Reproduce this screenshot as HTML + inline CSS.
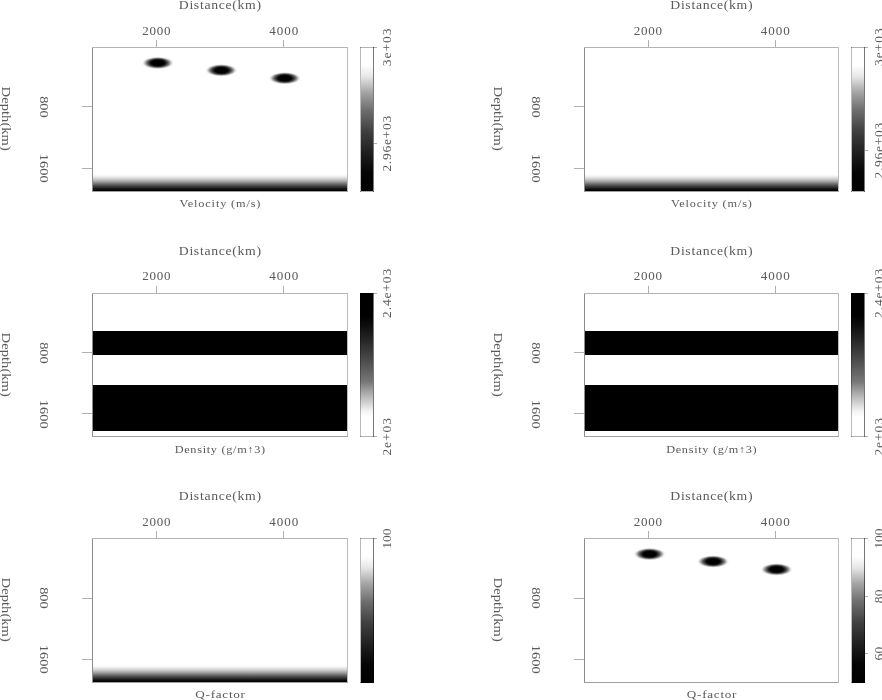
<!DOCTYPE html>
<html><head><meta charset="utf-8"><title>Plots</title>
<style>html,body{margin:0;padding:0;background:#fff;overflow:hidden}svg{display:block}</style>
</head><body><svg width="882" height="700" viewBox="0 0 882 700"><defs><linearGradient id="botg" x1="0" y1="0" x2="0" y2="1"><stop offset="0" stop-color="rgb(255,255,255)"/><stop offset="0.12" stop-color="rgb(245,245,245)"/><stop offset="0.3" stop-color="rgb(205,205,205)"/><stop offset="0.45" stop-color="rgb(160,160,160)"/><stop offset="0.6" stop-color="rgb(105,105,105)"/><stop offset="0.75" stop-color="rgb(55,55,55)"/><stop offset="0.88" stop-color="rgb(20,20,20)"/><stop offset="0.96" stop-color="rgb(0,0,0)"/><stop offset="1" stop-color="rgb(0,0,0)"/></linearGradient><linearGradient id="cbv" x1="0" y1="0" x2="0" y2="1"><stop offset="0" stop-color="rgb(255,255,255)"/><stop offset="0.12" stop-color="rgb(255,255,255)"/><stop offset="0.2" stop-color="rgb(230,230,230)"/><stop offset="0.31" stop-color="rgb(165,165,165)"/><stop offset="0.43" stop-color="rgb(112,112,112)"/><stop offset="0.58" stop-color="rgb(64,64,64)"/><stop offset="0.73" stop-color="rgb(32,32,32)"/><stop offset="0.87" stop-color="rgb(5,5,5)"/><stop offset="1" stop-color="rgb(0,0,0)"/></linearGradient><linearGradient id="cbd" x1="0" y1="0" x2="0" y2="1"><stop offset="0" stop-color="rgb(0,0,0)"/><stop offset="0.16" stop-color="rgb(0,0,0)"/><stop offset="0.24" stop-color="rgb(17,17,17)"/><stop offset="0.315" stop-color="rgb(34,34,34)"/><stop offset="0.378" stop-color="rgb(51,51,51)"/><stop offset="0.444" stop-color="rgb(68,68,68)"/><stop offset="0.47" stop-color="rgb(75,75,75)"/><stop offset="0.62" stop-color="rgb(119,119,119)"/><stop offset="0.7" stop-color="rgb(170,170,170)"/><stop offset="0.788" stop-color="rgb(221,221,221)"/><stop offset="0.83" stop-color="rgb(245,245,245)"/><stop offset="0.867" stop-color="rgb(255,255,255)"/><stop offset="1" stop-color="rgb(255,255,255)"/></linearGradient></defs><rect width="882" height="700" fill="#fff"/><g shape-rendering="crispEdges"><rect x="93" y="174" width="254" height="17" fill="url(#botg)"/><rect x="92" y="47" width="1" height="145" fill="#8c8c8c"/><rect x="92" y="47" width="256" height="1" fill="#b4b4b4"/><rect x="347" y="47" width="1" height="145" fill="#bcbcbc"/><rect x="92" y="191" width="256" height="1" fill="#a0a0a0"/><rect x="361" y="48" width="12" height="143" fill="url(#cbv)"/><rect x="360" y="47" width="1" height="145" fill="rgba(0,0,0,0.27)"/><rect x="360" y="47" width="14" height="1" fill="rgba(0,0,0,0.3)"/><rect x="373" y="47" width="1" height="145" fill="rgba(0,0,0,0.53)"/><rect x="360" y="191" width="14" height="1" fill="rgba(0,0,0,0.3)"/><rect x="156" y="40" width="1" height="7" fill="#b0b0b0"/><rect x="283" y="40" width="1" height="7" fill="#b0b0b0"/><rect x="82" y="106" width="10" height="1" fill="#b0b0b0"/><rect x="82" y="168" width="10" height="1" fill="#b0b0b0"/><rect x="374" y="47" width="3" height="1" fill="#b0b0b0"/><rect x="374" y="143" width="3" height="1" fill="#b0b0b0"/><rect x="585" y="174" width="253" height="17" fill="url(#botg)"/><rect x="584" y="47" width="1" height="145" fill="#8c8c8c"/><rect x="584" y="47" width="255" height="1" fill="#b4b4b4"/><rect x="838" y="47" width="1" height="145" fill="#bcbcbc"/><rect x="584" y="191" width="255" height="1" fill="#a0a0a0"/><rect x="852" y="48" width="12" height="143" fill="url(#cbv)"/><rect x="851" y="47" width="1" height="145" fill="rgba(0,0,0,0.27)"/><rect x="851" y="47" width="14" height="1" fill="rgba(0,0,0,0.3)"/><rect x="864" y="47" width="1" height="145" fill="rgba(0,0,0,0.53)"/><rect x="851" y="191" width="14" height="1" fill="rgba(0,0,0,0.3)"/><rect x="648" y="40" width="1" height="7" fill="#b0b0b0"/><rect x="775" y="40" width="1" height="7" fill="#b0b0b0"/><rect x="574" y="106" width="10" height="1" fill="#b0b0b0"/><rect x="574" y="168" width="10" height="1" fill="#b0b0b0"/><rect x="865" y="47" width="3" height="1" fill="#b0b0b0"/><rect x="865" y="150" width="3" height="1" fill="#b0b0b0"/><rect x="93" y="331" width="254" height="24" fill="#000"/><rect x="93" y="385" width="254" height="46" fill="#000"/><rect x="92" y="293" width="1" height="144" fill="#8c8c8c"/><rect x="92" y="293" width="256" height="1" fill="#b4b4b4"/><rect x="347" y="293" width="1" height="144" fill="#bcbcbc"/><rect x="92" y="436" width="256" height="1" fill="#a0a0a0"/><rect x="360" y="293" width="13" height="143" fill="url(#cbd)"/><rect x="360" y="293" width="1" height="144" fill="rgba(0,0,0,0.27)"/><rect x="360" y="293" width="14" height="1" fill="rgba(0,0,0,0.3)"/><rect x="373" y="293" width="1" height="144" fill="rgba(0,0,0,0.53)"/><rect x="360" y="436" width="14" height="1" fill="rgba(0,0,0,0.3)"/><rect x="156" y="286" width="1" height="7" fill="#b0b0b0"/><rect x="283" y="286" width="1" height="7" fill="#b0b0b0"/><rect x="82" y="352" width="10" height="1" fill="#b0b0b0"/><rect x="82" y="413" width="10" height="1" fill="#b0b0b0"/><rect x="374" y="293" width="3" height="1" fill="#b0b0b0"/><rect x="374" y="436" width="3" height="1" fill="#b0b0b0"/><rect x="585" y="331" width="253" height="24" fill="#000"/><rect x="585" y="385" width="253" height="46" fill="#000"/><rect x="584" y="293" width="1" height="144" fill="#8c8c8c"/><rect x="584" y="293" width="255" height="1" fill="#b4b4b4"/><rect x="838" y="293" width="1" height="144" fill="#bcbcbc"/><rect x="584" y="436" width="255" height="1" fill="#a0a0a0"/><rect x="851" y="293" width="13" height="143" fill="url(#cbd)"/><rect x="851" y="293" width="1" height="144" fill="rgba(0,0,0,0.27)"/><rect x="851" y="293" width="14" height="1" fill="rgba(0,0,0,0.3)"/><rect x="864" y="293" width="1" height="144" fill="rgba(0,0,0,0.53)"/><rect x="851" y="436" width="14" height="1" fill="rgba(0,0,0,0.3)"/><rect x="648" y="286" width="1" height="7" fill="#b0b0b0"/><rect x="775" y="286" width="1" height="7" fill="#b0b0b0"/><rect x="574" y="352" width="10" height="1" fill="#b0b0b0"/><rect x="574" y="413" width="10" height="1" fill="#b0b0b0"/><rect x="865" y="293" width="3" height="1" fill="#b0b0b0"/><rect x="865" y="436" width="3" height="1" fill="#b0b0b0"/><rect x="93" y="665" width="254" height="17" fill="url(#botg)"/><rect x="92" y="538" width="1" height="145" fill="#8c8c8c"/><rect x="92" y="538" width="256" height="1" fill="#b4b4b4"/><rect x="347" y="538" width="1" height="145" fill="#bcbcbc"/><rect x="92" y="682" width="256" height="1" fill="#a0a0a0"/><rect x="361" y="539" width="13" height="144" fill="url(#cbv)"/><rect x="360" y="538" width="1" height="145" fill="rgba(0,0,0,0.27)"/><rect x="360" y="538" width="14" height="1" fill="rgba(0,0,0,0.3)"/><rect x="373" y="538" width="1" height="145" fill="rgba(0,0,0,0.53)"/><rect x="360" y="682" width="14" height="1" fill="rgba(0,0,0,0.3)"/><rect x="156" y="531" width="1" height="7" fill="#b0b0b0"/><rect x="283" y="531" width="1" height="7" fill="#b0b0b0"/><rect x="82" y="598" width="10" height="1" fill="#b0b0b0"/><rect x="82" y="659" width="10" height="1" fill="#b0b0b0"/><rect x="374" y="538" width="3" height="1" fill="#b0b0b0"/><rect x="584" y="538" width="1" height="145" fill="#8c8c8c"/><rect x="584" y="538" width="255" height="1" fill="#b4b4b4"/><rect x="838" y="538" width="1" height="145" fill="#bcbcbc"/><rect x="584" y="682" width="255" height="1" fill="#a0a0a0"/><rect x="852" y="539" width="13" height="144" fill="url(#cbv)"/><rect x="851" y="538" width="1" height="145" fill="rgba(0,0,0,0.27)"/><rect x="851" y="538" width="14" height="1" fill="rgba(0,0,0,0.3)"/><rect x="864" y="538" width="1" height="145" fill="rgba(0,0,0,0.53)"/><rect x="851" y="682" width="14" height="1" fill="rgba(0,0,0,0.3)"/><rect x="648" y="531" width="1" height="7" fill="#b0b0b0"/><rect x="775" y="531" width="1" height="7" fill="#b0b0b0"/><rect x="574" y="598" width="10" height="1" fill="#b0b0b0"/><rect x="574" y="659" width="10" height="1" fill="#b0b0b0"/><rect x="865" y="538" width="3" height="1" fill="#b0b0b0"/><rect x="865" y="596" width="3" height="1" fill="#b0b0b0"/><rect x="865" y="653" width="3" height="1" fill="#b0b0b0"/></g><ellipse cx="157.80" cy="62.90" rx="15.40" ry="6.05" fill-opacity="0.059"/><ellipse cx="157.80" cy="62.90" rx="14.31" ry="5.74" fill-opacity="0.067"/><ellipse cx="157.80" cy="62.90" rx="13.78" ry="5.50" fill-opacity="0.080"/><ellipse cx="157.80" cy="62.90" rx="13.22" ry="5.32" fill-opacity="0.087"/><ellipse cx="157.80" cy="62.90" rx="12.71" ry="5.13" fill-opacity="0.106"/><ellipse cx="157.80" cy="62.90" rx="12.23" ry="4.94" fill-opacity="0.119"/><ellipse cx="157.80" cy="62.90" rx="11.74" ry="4.75" fill-opacity="0.135"/><ellipse cx="157.80" cy="62.90" rx="11.19" ry="4.57" fill-opacity="0.156"/><ellipse cx="157.80" cy="62.90" rx="10.59" ry="4.39" fill-opacity="0.167"/><ellipse cx="157.80" cy="62.90" rx="10.03" ry="4.17" fill-opacity="0.200"/><ellipse cx="157.80" cy="62.90" rx="9.30" ry="3.96" fill-opacity="0.222"/><ellipse cx="157.80" cy="62.90" rx="8.61" ry="3.77" fill-opacity="0.286"/><ellipse cx="157.80" cy="62.90" rx="7.95" ry="3.58" fill-opacity="0.350"/><ellipse cx="157.80" cy="62.90" rx="7.30" ry="3.25" fill-opacity="0.462"/><ellipse cx="157.80" cy="62.90" rx="6.69" ry="2.98" fill-opacity="0.643"/><ellipse cx="157.80" cy="62.90" rx="6.11" ry="2.62" fill-opacity="1.000"/><ellipse cx="221.30" cy="70.30" rx="15.40" ry="6.05" fill-opacity="0.059"/><ellipse cx="221.30" cy="70.30" rx="14.31" ry="5.74" fill-opacity="0.067"/><ellipse cx="221.30" cy="70.30" rx="13.78" ry="5.50" fill-opacity="0.080"/><ellipse cx="221.30" cy="70.30" rx="13.22" ry="5.32" fill-opacity="0.087"/><ellipse cx="221.30" cy="70.30" rx="12.71" ry="5.13" fill-opacity="0.106"/><ellipse cx="221.30" cy="70.30" rx="12.23" ry="4.94" fill-opacity="0.119"/><ellipse cx="221.30" cy="70.30" rx="11.74" ry="4.75" fill-opacity="0.135"/><ellipse cx="221.30" cy="70.30" rx="11.19" ry="4.57" fill-opacity="0.156"/><ellipse cx="221.30" cy="70.30" rx="10.59" ry="4.39" fill-opacity="0.167"/><ellipse cx="221.30" cy="70.30" rx="10.03" ry="4.17" fill-opacity="0.200"/><ellipse cx="221.30" cy="70.30" rx="9.30" ry="3.96" fill-opacity="0.222"/><ellipse cx="221.30" cy="70.30" rx="8.61" ry="3.77" fill-opacity="0.286"/><ellipse cx="221.30" cy="70.30" rx="7.95" ry="3.58" fill-opacity="0.350"/><ellipse cx="221.30" cy="70.30" rx="7.30" ry="3.25" fill-opacity="0.462"/><ellipse cx="221.30" cy="70.30" rx="6.69" ry="2.98" fill-opacity="0.643"/><ellipse cx="221.30" cy="70.30" rx="6.11" ry="2.62" fill-opacity="1.000"/><ellipse cx="284.80" cy="78.20" rx="15.40" ry="6.05" fill-opacity="0.059"/><ellipse cx="284.80" cy="78.20" rx="14.31" ry="5.74" fill-opacity="0.067"/><ellipse cx="284.80" cy="78.20" rx="13.78" ry="5.50" fill-opacity="0.080"/><ellipse cx="284.80" cy="78.20" rx="13.22" ry="5.32" fill-opacity="0.087"/><ellipse cx="284.80" cy="78.20" rx="12.71" ry="5.13" fill-opacity="0.106"/><ellipse cx="284.80" cy="78.20" rx="12.23" ry="4.94" fill-opacity="0.119"/><ellipse cx="284.80" cy="78.20" rx="11.74" ry="4.75" fill-opacity="0.135"/><ellipse cx="284.80" cy="78.20" rx="11.19" ry="4.57" fill-opacity="0.156"/><ellipse cx="284.80" cy="78.20" rx="10.59" ry="4.39" fill-opacity="0.167"/><ellipse cx="284.80" cy="78.20" rx="10.03" ry="4.17" fill-opacity="0.200"/><ellipse cx="284.80" cy="78.20" rx="9.30" ry="3.96" fill-opacity="0.222"/><ellipse cx="284.80" cy="78.20" rx="8.61" ry="3.77" fill-opacity="0.286"/><ellipse cx="284.80" cy="78.20" rx="7.95" ry="3.58" fill-opacity="0.350"/><ellipse cx="284.80" cy="78.20" rx="7.30" ry="3.25" fill-opacity="0.462"/><ellipse cx="284.80" cy="78.20" rx="6.69" ry="2.98" fill-opacity="0.643"/><ellipse cx="284.80" cy="78.20" rx="6.11" ry="2.62" fill-opacity="1.000"/><ellipse cx="649.60" cy="554.10" rx="15.40" ry="6.05" fill-opacity="0.059"/><ellipse cx="649.60" cy="554.10" rx="14.31" ry="5.74" fill-opacity="0.067"/><ellipse cx="649.60" cy="554.10" rx="13.78" ry="5.50" fill-opacity="0.080"/><ellipse cx="649.60" cy="554.10" rx="13.22" ry="5.32" fill-opacity="0.087"/><ellipse cx="649.60" cy="554.10" rx="12.71" ry="5.13" fill-opacity="0.106"/><ellipse cx="649.60" cy="554.10" rx="12.23" ry="4.94" fill-opacity="0.119"/><ellipse cx="649.60" cy="554.10" rx="11.74" ry="4.75" fill-opacity="0.135"/><ellipse cx="649.60" cy="554.10" rx="11.19" ry="4.57" fill-opacity="0.156"/><ellipse cx="649.60" cy="554.10" rx="10.59" ry="4.39" fill-opacity="0.167"/><ellipse cx="649.60" cy="554.10" rx="10.03" ry="4.17" fill-opacity="0.200"/><ellipse cx="649.60" cy="554.10" rx="9.30" ry="3.96" fill-opacity="0.222"/><ellipse cx="649.60" cy="554.10" rx="8.61" ry="3.77" fill-opacity="0.286"/><ellipse cx="649.60" cy="554.10" rx="7.95" ry="3.58" fill-opacity="0.350"/><ellipse cx="649.60" cy="554.10" rx="7.30" ry="3.25" fill-opacity="0.462"/><ellipse cx="649.60" cy="554.10" rx="6.69" ry="2.98" fill-opacity="0.643"/><ellipse cx="649.60" cy="554.10" rx="6.11" ry="2.62" fill-opacity="1.000"/><ellipse cx="713.10" cy="561.50" rx="15.40" ry="6.05" fill-opacity="0.059"/><ellipse cx="713.10" cy="561.50" rx="14.31" ry="5.74" fill-opacity="0.067"/><ellipse cx="713.10" cy="561.50" rx="13.78" ry="5.50" fill-opacity="0.080"/><ellipse cx="713.10" cy="561.50" rx="13.22" ry="5.32" fill-opacity="0.087"/><ellipse cx="713.10" cy="561.50" rx="12.71" ry="5.13" fill-opacity="0.106"/><ellipse cx="713.10" cy="561.50" rx="12.23" ry="4.94" fill-opacity="0.119"/><ellipse cx="713.10" cy="561.50" rx="11.74" ry="4.75" fill-opacity="0.135"/><ellipse cx="713.10" cy="561.50" rx="11.19" ry="4.57" fill-opacity="0.156"/><ellipse cx="713.10" cy="561.50" rx="10.59" ry="4.39" fill-opacity="0.167"/><ellipse cx="713.10" cy="561.50" rx="10.03" ry="4.17" fill-opacity="0.200"/><ellipse cx="713.10" cy="561.50" rx="9.30" ry="3.96" fill-opacity="0.222"/><ellipse cx="713.10" cy="561.50" rx="8.61" ry="3.77" fill-opacity="0.286"/><ellipse cx="713.10" cy="561.50" rx="7.95" ry="3.58" fill-opacity="0.350"/><ellipse cx="713.10" cy="561.50" rx="7.30" ry="3.25" fill-opacity="0.462"/><ellipse cx="713.10" cy="561.50" rx="6.69" ry="2.98" fill-opacity="0.643"/><ellipse cx="713.10" cy="561.50" rx="6.11" ry="2.62" fill-opacity="1.000"/><ellipse cx="776.60" cy="569.40" rx="15.40" ry="6.05" fill-opacity="0.059"/><ellipse cx="776.60" cy="569.40" rx="14.31" ry="5.74" fill-opacity="0.067"/><ellipse cx="776.60" cy="569.40" rx="13.78" ry="5.50" fill-opacity="0.080"/><ellipse cx="776.60" cy="569.40" rx="13.22" ry="5.32" fill-opacity="0.087"/><ellipse cx="776.60" cy="569.40" rx="12.71" ry="5.13" fill-opacity="0.106"/><ellipse cx="776.60" cy="569.40" rx="12.23" ry="4.94" fill-opacity="0.119"/><ellipse cx="776.60" cy="569.40" rx="11.74" ry="4.75" fill-opacity="0.135"/><ellipse cx="776.60" cy="569.40" rx="11.19" ry="4.57" fill-opacity="0.156"/><ellipse cx="776.60" cy="569.40" rx="10.59" ry="4.39" fill-opacity="0.167"/><ellipse cx="776.60" cy="569.40" rx="10.03" ry="4.17" fill-opacity="0.200"/><ellipse cx="776.60" cy="569.40" rx="9.30" ry="3.96" fill-opacity="0.222"/><ellipse cx="776.60" cy="569.40" rx="8.61" ry="3.77" fill-opacity="0.286"/><ellipse cx="776.60" cy="569.40" rx="7.95" ry="3.58" fill-opacity="0.350"/><ellipse cx="776.60" cy="569.40" rx="7.30" ry="3.25" fill-opacity="0.462"/><ellipse cx="776.60" cy="569.40" rx="6.69" ry="2.98" fill-opacity="0.643"/><ellipse cx="776.60" cy="569.40" rx="6.11" ry="2.62" fill-opacity="1.000"/><g font-family="'Liberation Serif', serif" fill="#5a5a5a" opacity="0.999"><text font-size="11.450" letter-spacing="0.569" transform="matrix(1.2 0 0 1 178.7878 8.6)">Distance(km)</text><text font-size="11.880" letter-spacing="0.659" transform="matrix(1.1 0 0 1 142.312 34.7)">2000</text><text font-size="11.880" letter-spacing="0.833" transform="matrix(1.1 0 0 1 269.3386 34.7)">4000</text><text font-size="12.214" letter-spacing="0.006" transform="matrix(0 1.2 -1 0 2.3 86.5603)">Depth(km)</text><text font-size="13.083" letter-spacing="-0.107" transform="matrix(0 1.1 -1 0 40.1 96.2244)">800</text><text font-size="13.083" letter-spacing="0.057" transform="matrix(0 1.1 -1 0 40.1 153.7048)">1600</text><text font-size="10.229" letter-spacing="0.722" transform="matrix(1.2 0 0 1 179.3773 206.7)">Velocity (m/s)</text><text font-size="12.331" letter-spacing="0.858" transform="matrix(0 -1.1 1 0 391.2 66.2782)">3e+03</text><text font-size="12.331" letter-spacing="0.630" transform="matrix(0 -1.1 1 0 391.2 171.6104)">2.96e+03</text><text font-size="11.450" letter-spacing="0.569" transform="matrix(1.2 0 0 1 670.2878 8.6)">Distance(km)</text><text font-size="11.880" letter-spacing="0.659" transform="matrix(1.1 0 0 1 633.812 34.7)">2000</text><text font-size="11.880" letter-spacing="0.833" transform="matrix(1.1 0 0 1 760.8386 34.7)">4000</text><text font-size="12.214" letter-spacing="0.006" transform="matrix(0 1.2 -1 0 493.8 86.5603)">Depth(km)</text><text font-size="13.083" letter-spacing="-0.107" transform="matrix(0 1.1 -1 0 531.6 96.2244)">800</text><text font-size="13.083" letter-spacing="0.057" transform="matrix(0 1.1 -1 0 531.6 153.7048)">1600</text><text font-size="10.229" letter-spacing="0.722" transform="matrix(1.2 0 0 1 670.8773 206.7)">Velocity (m/s)</text><text font-size="12.331" letter-spacing="0.858" transform="matrix(0 -1.1 1 0 882.7 66.0782)">3e+03</text><text font-size="12.331" letter-spacing="0.630" transform="matrix(0 -1.1 1 0 882.7 178.5104)">2.96e+03</text><text font-size="11.450" letter-spacing="0.569" transform="matrix(1.2 0 0 1 178.7878 254.6)">Distance(km)</text><text font-size="11.880" letter-spacing="0.659" transform="matrix(1.1 0 0 1 142.312 279.8)">2000</text><text font-size="11.880" letter-spacing="0.833" transform="matrix(1.1 0 0 1 269.3386 279.8)">4000</text><text font-size="12.214" letter-spacing="0.006" transform="matrix(0 1.2 -1 0 2.3 332.5603)">Depth(km)</text><text font-size="13.083" letter-spacing="-0.107" transform="matrix(0 1.1 -1 0 40.1 342.2244)">800</text><text font-size="13.083" letter-spacing="0.057" transform="matrix(0 1.1 -1 0 40.1 399.7048)">1600</text><text font-size="10.229" letter-spacing="0.586" transform="matrix(1.2 0 0 1 174.6318 452.7)">Density (g/m↑3)</text><text font-size="12.331" letter-spacing="0.748" transform="matrix(0 -1.1 1 0 391.2 317.9104)">2.4e+03</text><text font-size="12.331" letter-spacing="0.820" transform="matrix(0 -1.1 1 0 391.2 455.6104)">2e+03</text><text font-size="11.450" letter-spacing="0.569" transform="matrix(1.2 0 0 1 670.2878 254.6)">Distance(km)</text><text font-size="11.880" letter-spacing="0.659" transform="matrix(1.1 0 0 1 633.812 279.8)">2000</text><text font-size="11.880" letter-spacing="0.833" transform="matrix(1.1 0 0 1 760.8386 279.8)">4000</text><text font-size="12.214" letter-spacing="0.006" transform="matrix(0 1.2 -1 0 493.8 332.5603)">Depth(km)</text><text font-size="13.083" letter-spacing="-0.107" transform="matrix(0 1.1 -1 0 531.6 342.2244)">800</text><text font-size="13.083" letter-spacing="0.057" transform="matrix(0 1.1 -1 0 531.6 399.7048)">1600</text><text font-size="10.229" letter-spacing="0.586" transform="matrix(1.2 0 0 1 666.1318 452.7)">Density (g/m↑3)</text><text font-size="12.331" letter-spacing="0.748" transform="matrix(0 -1.1 1 0 882.7 317.9104)">2.4e+03</text><text font-size="12.331" letter-spacing="0.820" transform="matrix(0 -1.1 1 0 882.7 455.6104)">2e+03</text><text font-size="11.450" letter-spacing="0.569" transform="matrix(1.2 0 0 1 178.7878 499.6)">Distance(km)</text><text font-size="11.880" letter-spacing="0.659" transform="matrix(1.1 0 0 1 142.312 525.7)">2000</text><text font-size="11.880" letter-spacing="0.833" transform="matrix(1.1 0 0 1 269.3386 525.7)">4000</text><text font-size="12.214" letter-spacing="0.006" transform="matrix(0 1.2 -1 0 2.3 577.5603)">Depth(km)</text><text font-size="13.083" letter-spacing="-0.107" transform="matrix(0 1.1 -1 0 40.1 587.2244)">800</text><text font-size="13.083" letter-spacing="0.057" transform="matrix(0 1.1 -1 0 40.1 644.7048)">1600</text><text font-size="10.992" letter-spacing="0.588" transform="matrix(1.2 0 0 1 195.3724 697.7)">Q-factor</text><text font-size="12.331" letter-spacing="-0.038" transform="matrix(0 -1.1 1 0 391.2 548.7208)">100</text><text font-size="11.450" letter-spacing="0.569" transform="matrix(1.2 0 0 1 670.2878 499.6)">Distance(km)</text><text font-size="11.880" letter-spacing="0.659" transform="matrix(1.1 0 0 1 633.812 525.7)">2000</text><text font-size="11.880" letter-spacing="0.833" transform="matrix(1.1 0 0 1 760.8386 525.7)">4000</text><text font-size="12.214" letter-spacing="0.006" transform="matrix(0 1.2 -1 0 493.8 577.5603)">Depth(km)</text><text font-size="13.083" letter-spacing="-0.107" transform="matrix(0 1.1 -1 0 531.6 587.2244)">800</text><text font-size="13.083" letter-spacing="0.057" transform="matrix(0 1.1 -1 0 531.6 644.7048)">1600</text><text font-size="10.992" letter-spacing="0.588" transform="matrix(1.2 0 0 1 686.8724 697.7)">Q-factor</text><text font-size="12.331" letter-spacing="-0.038" transform="matrix(0 -1.1 1 0 882.7 548.7208)">100</text><text font-size="12.331" letter-spacing="0.110" transform="matrix(0 -1.1 1 0 882.7 603.2426)">80</text><text font-size="12.331" letter-spacing="0.172" transform="matrix(0 -1.1 1 0 882.7 660.5104)">60</text></g></svg></body></html>
